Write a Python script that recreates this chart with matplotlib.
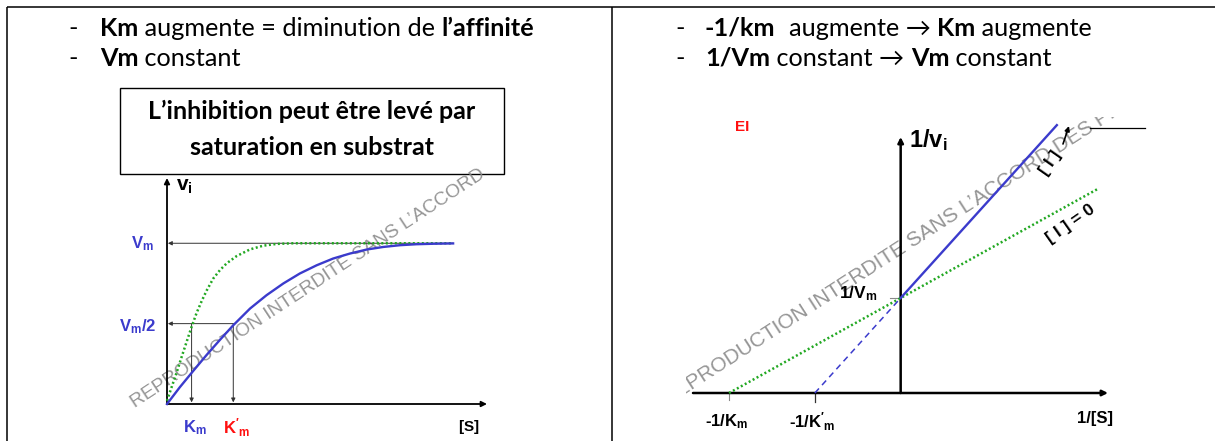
import numpy as np
import matplotlib
matplotlib.use("Agg")
import matplotlib.pyplot as plt
from matplotlib.patches import Rectangle

plt.rcParams['mathtext.fontset'] = 'custom'
plt.rcParams['mathtext.rm'] = 'Liberation Sans'
plt.rcParams['mathtext.bf'] = 'Liberation Sans:bold'
plt.rcParams['mathtext.it'] = 'Liberation Sans:italic'
plt.rcParams['mathtext.sf'] = 'Liberation Sans'

# ---------------- data ----------------
# Michaelis-Menten (left): [S] in arbitrary units, v in units of Vm
mm_blue_s = [0.0, 0.43, 0.88, 1.32, 1.77, 2.21, 2.77, 3.32, 3.88, 4.43, 4.99, 5.54,
             6.10, 6.66, 7.21, 7.77, 8.32, 8.88, 9.54]
mm_blue_v = [0.0, 0.105, 0.207, 0.305, 0.40, 0.49, 0.594, 0.677, 0.75, 0.812, 0.863,
             0.905, 0.936, 0.961, 0.977, 0.988, 0.994, 0.997, 0.999]
mm_green_s = [0.0, 0.16, 0.32, 0.49, 0.66, 0.82, 0.99, 1.16, 1.32, 1.54, 1.77, 1.99,
              2.32, 2.77, 3.21, 3.66, 4.21, 9.54]
mm_green_v = [0.02, 0.108, 0.195, 0.294, 0.39, 0.48, 0.568, 0.642, 0.705, 0.78,
              0.834, 0.875, 0.92, 0.962, 0.985, 0.996, 1.0, 1.0]
Vm = 1.0
Vm_half = 0.5
Km = 0.82
Km_prime = 2.21
mm_xmax, mm_ymax = 10.67, 1.406

# Lineweaver-Burk (right)
lb_green_x = [-2.0, 2.29]
lb_green_y = [0.0, 2.145]
lb_blue_dash_x = [-1.0, 0.0]
lb_blue_dash_y = [0.0, 1.0]
lb_blue_x = [0.0, 1.82]
lb_blue_y = [1.0, 2.82]
inv_Km = -2.0
inv_Km_prime = -1.0
inv_Vm = 1.0
lb_xmin, lb_xmax, lb_ymax = -2.42, 2.416, 2.695

left_lines = [[("Km", True), (" augmente = diminution de ", False), ("l’affinité", True)],
              [("Vm", True), (" constant", False)]]
right_lines = [[("-1/km", True), ("  augmente → ", False), ("Km", True), (" augmente", False)],
               [("1/Vm", True), (" constant → ", False), ("Vm", True), (" constant", False)]]
box_lines = ["L’inhibition peut être levé par", "saturation en substrat"]
watermark = "REPRODUCTION INTERDITE SANS L’ACCORD"
watermark2 = "REPRODUCTION INTERDITE SANS L’ACCORD DES PROFESSEURS"

BLUE = '#3b3bcc'
GREEN = '#22a822'
RED = '#ff1010'
GRAY = '#8a8a8a'

# ---------------- figure ----------------
W, H, DPI = 1215, 441, 100
fig = plt.figure(figsize=(W / DPI, H / DPI), dpi=DPI)
bg = fig.add_axes([0, 0, 1, 1])
bg.set_xlim(0, W)
bg.set_ylim(H, 0)
bg.axis('off')


def fax(x0, y0, x1, y1):
    a = fig.add_axes([x0 / W, 1 - y1 / H, (x1 - x0) / W, (y1 - y0) / H])
    a.axis('off')
    return a

# table borders
lwt = 1.1
bg.plot([6.5, 6.5], [7, H], color='k', lw=lwt, solid_capstyle='butt')
bg.plot([6.5, W], [7, 7], color='k', lw=lwt, solid_capstyle='butt')
bg.plot([612, 612], [7, H], color='k', lw=lwt, solid_capstyle='butt')

fig.canvas.draw()
R = fig.canvas.get_renderer()

TXT = ['Lato', 'DejaVu Sans']
TSIZE = 18.2


def width_px(s, **kw):
    t = bg.text(0, 0, s + '|', **kw)
    w1 = t.get_window_extent(R).width
    t.remove()
    t = bg.text(0, 0, '|', **kw)
    w2 = t.get_window_extent(R).width
    t.remove()
    return w1 - w2


def rich(x, y, parts):
    for s, b in parts:
        kw = dict(family=TXT, fontsize=TSIZE, fontweight='bold' if b else 'normal')
        bg.text(x, y, s, ha='left', va='baseline', **kw)
        x += width_px(s, **kw)

for (dx, tx), lines in (((68, 100), left_lines), ((675, 705), right_lines)):
    for y, parts in zip((36, 66), lines):
        bg.text(dx, y, '-', ha='left', va='baseline', family=TXT, fontsize=TSIZE)
        rich(tx, y, parts)

# inner box
bg.add_patch(Rectangle((120, 88), 384, 86, fill=False, ec='k', lw=1.0))
for y, s in zip((119, 155), box_lines):
    bg.text(312, y, s, ha='center', va='baseline', family=TXT, fontsize=18,
            fontweight='bold')

# ---------------- left diagram ----------------
axL = fax(167, 178, 487, 404)
axL.set_xlim(0, mm_xmax)
axL.set_ylim(0, mm_ymax)
arr = dict(arrowstyle='-|>', color='k', lw=1.3, mutation_scale=8, shrinkA=0, shrinkB=0)
axL.annotate('', xy=(0, mm_ymax), xytext=(0, 0), arrowprops=arr, annotation_clip=False)
axL.annotate('', xy=(mm_xmax, 0), xytext=(0, 0), arrowprops=arr, annotation_clip=False)
thin = dict(arrowstyle='-|>', color='#333333', lw=0.7, mutation_scale=6, shrinkA=0, shrinkB=0)
axL.annotate('', xy=(0.03, Vm), xytext=(mm_blue_s[-1], Vm), arrowprops=thin)
axL.annotate('', xy=(0.03, Vm_half), xytext=(Km_prime, Vm_half), arrowprops=thin)
axL.annotate('', xy=(Km, 0.01), xytext=(Km, Vm_half), arrowprops=thin)
axL.annotate('', xy=(Km_prime, 0.01), xytext=(Km_prime, Vm_half), arrowprops=thin)
axL.plot(mm_green_s, mm_green_v, color=GREEN, lw=1.8, ls=(0, (0.8, 1.0)), clip_on=False, zorder=4)
axL.plot(mm_blue_s, mm_blue_v, color=BLUE, lw=1.7, clip_on=False, zorder=5)

LF = 12
axL.text(-0.83, Vm, r'$\mathbf{V_m}$', color=BLUE, fontsize=LF, ha='center', va='center')
axL.text(-0.97, Vm_half - 0.02, r'$\mathbf{V_m/2}$', color=BLUE, fontsize=LF, ha='center', va='center')
axL.text(Km + 0.12, -0.15, r'$\mathbf{K_m}$', color=BLUE, fontsize=LF, ha='center', va='center')
axL.text(Km_prime + 0.1, -0.15, r"$\mathbf{K'_m}$", color=RED, fontsize=LF, ha='center', va='center')
axL.text(mm_xmax - 0.6, -0.14, r'$\mathbf{[S]}$', color='k', fontsize=11, ha='center', va='center')
axL.text(0.3, mm_ymax - 0.05, r'$\mathbf{v_i}$', color='k', fontsize=15, ha='left', va='center')

# watermark left
bg.text(133, 404, watermark, rotation=33.4, rotation_mode='anchor', ha='left', va='center',
        family='Liberation Sans', fontsize=13.8, color=GRAY, alpha=0.9, zorder=1)

# ---------------- right diagram ----------------
axR = fax(693, 137, 1108, 393)
axR.set_xlim(lb_xmin, lb_xmax)
axR.set_ylim(0, lb_ymax)
arr2 = dict(arrowstyle='-|>', color='k', lw=1.8, mutation_scale=8, shrinkA=0, shrinkB=0)
axR.annotate('', xy=(0, lb_ymax), xytext=(0, 0), arrowprops=arr2, annotation_clip=False)
axR.annotate('', xy=(lb_xmax, 0), xytext=(lb_xmin, 0), arrowprops=arr2, annotation_clip=False)
axR.plot(lb_green_x, lb_green_y, color=GREEN, lw=1.8, ls=(0, (0.8, 1.0)), clip_on=False, zorder=4)
axR.plot(lb_blue_dash_x, lb_blue_dash_y, color=BLUE, lw=1.1, ls=(0, (4, 3)), clip_on=False, zorder=4)
axR.plot(lb_blue_x, lb_blue_y, color=BLUE, lw=1.7, clip_on=False, zorder=5)
# small ticks
axR.plot([inv_Km, inv_Km], [0, -0.075], color=GRAY, lw=0.8, clip_on=False)
axR.plot([inv_Km_prime, inv_Km_prime], [0, -0.1], color='#333333', lw=0.9, clip_on=False)
axR.plot([-0.12, 0], [inv_Vm, inv_Vm], color=GRAY, lw=0.8, clip_on=False)

LB = dict(family='Liberation Sans', fontweight='bold', fontsize=12)
axR.text(inv_Km - 0.03, -0.3, r'-1/$\mathbf{K_m}$', ha='center', va='center', **LB)
axR.text(inv_Km_prime - 0.03, -0.3, r"-1/$\mathbf{K'_m}$", ha='center', va='center', **LB)
axR.text(lb_xmax - 0.15, -0.27, '1/[S]', ha='center', va='center', **LB)
axR.text(-0.27, inv_Vm + 0.05, r'1/$\mathbf{V_m}$', ha='right', va='center',
         family='Liberation Sans', fontweight='bold', fontsize=12.5)
axR.text(0.1, lb_ymax - 0.03, r'1/$\mathbf{v_i}$', ha='left', va='center',
         family='Liberation Sans', fontweight='bold', fontsize=17)
axR.text(-1.85, 2.8, 'EI', color=RED, fontsize=11, fontweight='bold', family='Liberation Sans',
         ha='center', va='center')

bg.text(1071, 224, '[ I ] = 0', rotation=35, rotation_mode='anchor', ha='center', va='center',
        family='Liberation Sans', fontweight='bold', fontsize=12.5, zorder=6)
bg.text(1050, 163, '[ I ]', rotation=55, rotation_mode='anchor', ha='center', va='center',
        family='Liberation Sans', fontweight='bold', fontsize=12.5, zorder=6)
bg.annotate('', xy=(1069, 126), xytext=(1063, 144),
            arrowprops=dict(arrowstyle='-|>', color='k', lw=1.2, mutation_scale=7, shrinkA=0, shrinkB=0))
bg.plot([1090, 1145], [128, 128], color='k', lw=0.9)

# watermark right (clipped to picture area)
clip = Rectangle((686, 117), 460, 322, transform=bg.transData, fill=False, visible=False)
bg.add_patch(clip)
ang = 32.8
wkw = dict(family='Liberation Sans', fontsize=15)
off = width_px('RE', **wkw)
sx = 689 - off * np.cos(np.radians(ang))
sy = 386 + off * np.sin(np.radians(ang))
t = bg.text(sx, sy, watermark2, rotation=ang, rotation_mode='anchor', ha='left', va='center',
            color=GRAY, alpha=0.9, zorder=1, clip_on=True, **wkw)
t.set_clip_path(clip)

fig.savefig('out.png', dpi=DPI)
